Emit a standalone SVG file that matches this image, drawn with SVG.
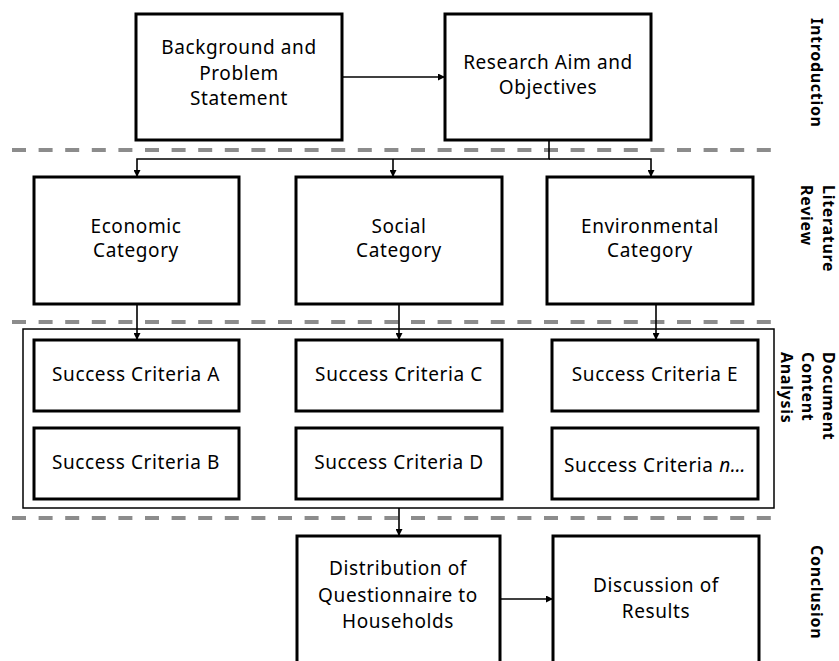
<svg xmlns="http://www.w3.org/2000/svg" width="839" height="661" viewBox="0 0 839 661">
<defs>
<marker id="ah" viewBox="0 0 10 10" refX="10" refY="5" markerWidth="7" markerHeight="7" markerUnits="userSpaceOnUse" orient="auto">
<path d="M0,0 L10,5 L0,10 z" fill="#000"/>
</marker>
<style>
.box{fill:#fff;stroke:#000;stroke-width:3}
.t{font-family:"Noto Sans","Open Sans",sans-serif;font-size:19px;letter-spacing:0.6px;fill:#000;text-anchor:middle}
.lab{font-family:"Noto Sans","Open Sans",sans-serif;font-size:16px;letter-spacing:0.7px;font-weight:bold;fill:#000}
.dash{stroke:#8c8c8c;stroke-width:4;stroke-dasharray:14 12.6;fill:none}
.con{stroke:#000;stroke-width:1.6;fill:none}
</style>
</defs>
<rect width="839" height="661" fill="#fff"/>
<g id="separators">
<line class="dash" x1="12" y1="150" x2="782" y2="150"/>
<line class="dash" x1="12" y1="322" x2="782" y2="322"/>
<line class="dash" x1="12" y1="518" x2="782" y2="518"/>
</g>
<g id="container"><rect x="23" y="329" width="751" height="179" fill="none" stroke="#000" stroke-width="1.5"/></g>
<g id="connectors">
<line class="con" x1="342" y1="77" x2="445" y2="77" marker-end="url(#ah)"/>
<polyline class="con" points="549,140 549,159 137,159 137,177" marker-end="url(#ah)"/>
<polyline class="con" points="393,159 393,177" marker-end="url(#ah)"/>
<polyline class="con" points="549,159 651,159 651,177" marker-end="url(#ah)"/>
<line class="con" x1="137" y1="304" x2="137" y2="340" marker-end="url(#ah)"/>
<line class="con" x1="399" y1="304" x2="399" y2="340" marker-end="url(#ah)"/>
<line class="con" x1="656" y1="304" x2="656" y2="340" marker-end="url(#ah)"/>
<line class="con" x1="399" y1="508" x2="399" y2="536" marker-end="url(#ah)"/>
<line class="con" x1="500" y1="599" x2="553" y2="599" marker-end="url(#ah)"/>
</g>
<g id="background"><rect class="box" x="136" y="14" width="206" height="126"/>
<text class="t" x="239" y="54">Background and</text><text class="t" x="239" y="80">Problem</text><text class="t" x="239" y="105">Statement</text></g>
<g id="research"><rect class="box" x="445" y="14" width="206" height="126"/>
<text class="t" x="548" y="69">Research Aim and</text><text class="t" x="548" y="94">Objectives</text></g>
<g id="economic"><rect class="box" x="34" y="177" width="205" height="127"/>
<text class="t" x="136" y="233">Economic</text><text class="t" x="136" y="257">Category</text></g>
<g id="social"><rect class="box" x="296" y="177" width="206" height="127"/>
<text class="t" x="399" y="233">Social</text><text class="t" x="399" y="257">Category</text></g>
<g id="environmental"><rect class="box" x="547" y="177" width="206" height="127"/>
<text class="t" x="650" y="233">Environmental</text><text class="t" x="650" y="257">Category</text></g>
<g id="scA"><rect class="box" x="34" y="340" width="205" height="71"/><text class="t" x="136" y="381">Success Criteria A</text></g>
<g id="scB"><rect class="box" x="34" y="428" width="205" height="71"/><text class="t" x="136" y="469">Success Criteria B</text></g>
<g id="scC"><rect class="box" x="296" y="340" width="206" height="71"/><text class="t" x="399" y="381">Success Criteria C</text></g>
<g id="scD"><rect class="box" x="296" y="428" width="206" height="71"/><text class="t" x="399" y="469">Success Criteria D</text></g>
<g id="scE"><rect class="box" x="552" y="340" width="206" height="71"/><text class="t" x="655" y="381">Success Criteria E</text></g>
<g id="scN"><rect class="box" x="552" y="428" width="206" height="71"/><text class="t" x="655" y="472">Success Criteria <tspan font-style="italic">n…</tspan></text></g>
<g id="distribution"><rect class="box" x="297" y="536" width="203" height="140"/>
<text class="t" x="398" y="575">Distribution of</text><text class="t" x="398" y="602">Questionnaire to</text><text class="t" x="398" y="628">Households</text></g>
<g id="discussion"><rect class="box" x="553" y="536" width="206" height="140"/>
<text class="t" x="656" y="592">Discussion of</text><text class="t" x="656" y="618">Results</text></g>
<g id="labels">
<text class="lab" transform="translate(811,18) rotate(90)">Introduction</text>
<text class="lab" transform="translate(823,185) rotate(90)">Literature</text>
<text class="lab" transform="translate(801,185) rotate(90)">Review</text>
<text class="lab" transform="translate(823,352) rotate(90)">Document</text>
<text class="lab" transform="translate(802,352) rotate(90)">Content</text>
<text class="lab" transform="translate(781,352) rotate(90)">Analysis</text>
<text class="lab" transform="translate(811,545) rotate(90)">Conclusion</text>
</g>
</svg>
